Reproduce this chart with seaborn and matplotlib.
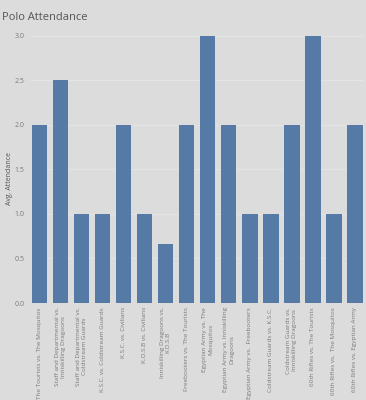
import matplotlib
matplotlib.use("Agg")
import matplotlib.pyplot as plt
import seaborn as sns
import pandas as pd

matches = [
    "The Tourists vs. The Mosquitos",
    "Staff and Departmental vs.\nInniskilling Dragoons",
    "Staff and Departmental vs.\nColdstream Guards",
    "K.S.C. vs. Coldstream Guards",
    "K.S.C. vs. Civilians",
    "K.O.S.B vs. Civilians",
    "Inniskilling Dragoons vs.\nK.O.S.B",
    "Freebooters vs. The Tourists",
    "Egyptian Army vs. The\nMosquitos",
    "Egyptian Army vs. Inniskilling\nDragoons",
    "Egyptian Army vs.  Freebooters",
    "Coldstream Guards vs. K.S.C.",
    "Coldstream Guards vs.\nInniskilling Dragoons",
    "60th Rifles vs. The Tourists",
    "60th Rifles vs.  The Mosquitos",
    "60th Rifles vs. Egyptian Army",
]
attendance = [2.0, 2.5, 1.0, 1.0, 2.0, 1.0, 0.667, 2.0, 3.0, 2.0, 1.0, 1.0, 2.0, 3.0, 1.0, 2.0]
yticks = [0.0, 0.5, 1.0, 1.5, 2.0, 2.5, 3.0]

df = pd.DataFrame({"match": matches, "att": attendance})

sns.set_theme(style="white")
plt.rcParams['font.family'] = ['Open Sans', 'DejaVu Sans']
bg = "#dcdcdc"
fig = plt.figure(figsize=(3.66, 4.0), dpi=100, facecolor=bg)
ax = fig.add_axes([0.082, 0.2425, 0.913, 0.679])
ax.set_facecolor(bg)

sns.barplot(data=df, x="match", y="att", color="#557aa5", width=0.75,
            saturation=1, linewidth=0, ax=ax, zorder=2)

ax.set_ylim(0, 3.05)
ax.set_xlim(-0.45, 15.45)
ax.set_yticks(yticks)
ax.set_yticklabels([f"{v:.1f}" for v in yticks], fontsize=5.0, color="#7a7a7a")
ax.tick_params(axis="y", length=0, pad=4)
ax.tick_params(axis="x", length=0, pad=3)
ax.set_xticks(range(len(matches)))
ax.set_xticklabels(matches, rotation=90, fontsize=4.6, color="#7a7a7a",
                   linespacing=1.15)
ax.yaxis.grid(True, color="#e4e4e4", linewidth=0.8, zorder=0)
ax.set_axisbelow(True)
for s in ax.spines.values():
    s.set_visible(False)
ax.set_xlabel("")
ax.set_ylabel("Avg. Attendance", fontsize=5.0, color="#555555")
ax.yaxis.set_label_coords(-0.052, 0.46)

fig.text(0.006, 0.97, "Polo Attendance", fontsize=8, color="#555555",
         ha="left", va="top")

fig.savefig("out.png", dpi=100, facecolor=bg)
